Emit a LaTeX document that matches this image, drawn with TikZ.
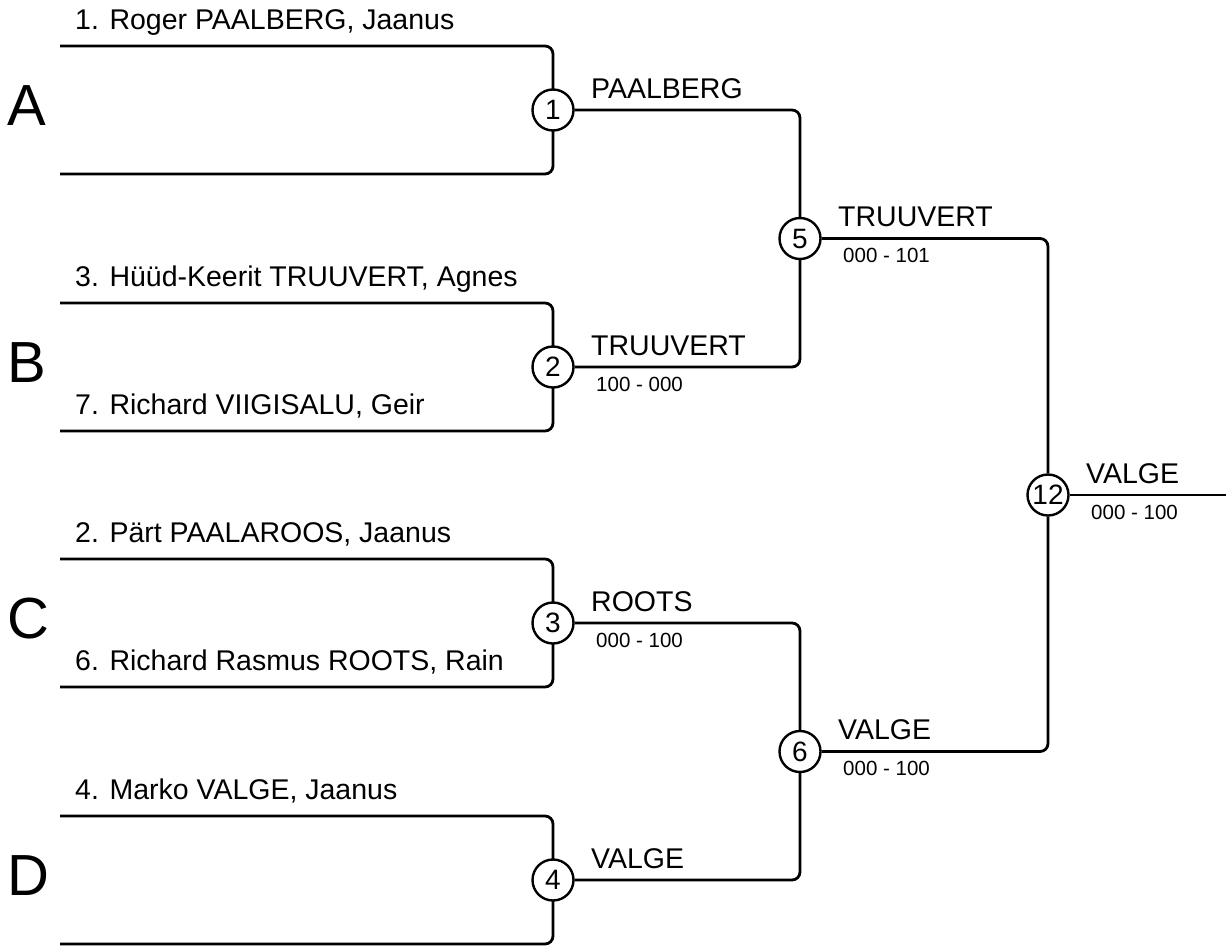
\documentclass[tikz,border=0pt]{standalone}
\usepackage{fontspec}
\setmainfont{Liberation Sans}
\begin{document}
\begin{tikzpicture}[x=1pt,y=-1pt,
  lnk/.style={line width=2.8pt,rounded corners=8pt},
  mnode/.style={circle,draw,line width=2.4pt,fill=white,minimum size=41pt,inner sep=0pt,font=\fontsize{28}{28}\selectfont},
  pname/.style={anchor=base west,inner sep=0pt,font=\fontsize{28.5}{30}\selectfont},
  sclabel/.style={anchor=base west,inner sep=0pt,font=\fontsize{20.5}{22}\selectfont},
  grplabel/.style={anchor=base west,inner sep=0pt,font=\fontsize{58}{60}\selectfont}]
\useasboundingbox (0,0) rectangle (1226,948);
% endpoints
\coordinate (a1) at (60,46);  \coordinate (a2) at (60,174);
\coordinate (b1) at (60,303); \coordinate (b2) at (60,431);
\coordinate (c1) at (60,559); \coordinate (c2) at (60,687);
\coordinate (d1) at (60,816); \coordinate (d2) at (60,944);
\coordinate (fin) at (1226,495);
% first-round lines
\draw[lnk] (a1) -| (553,110);
\draw[lnk] (a2) -| (553,110);
\draw[lnk] (b1) -| (553,367);
\draw[lnk] (b2) -| (553,367);
\draw[lnk] (c1) -| (553,623);
\draw[lnk] (c2) -| (553,623);
\draw[lnk] (d1) -| (553,880);
\draw[lnk] (d2) -| (553,880);
% match nodes
\node[mnode] (m1) at (553,110) {1};
\node[mnode] (m2) at (553,367) {2};
\node[mnode] (m3) at (553,623) {3};
\node[mnode] (m4) at (553,880) {4};
\node[mnode] (m5) at (800,238.5) {5};
\node[mnode] (m6) at (800,751.5) {6};
\node[mnode] (m12) at (1048,495) {12};
% later rounds
\draw[lnk] (m1.east) -| (m5.north);
\draw[lnk] (m2.east) -| (m5.south);
\draw[lnk] (m3.east) -| (m6.north);
\draw[lnk] (m4.east) -| (m6.south);
\draw[lnk] (m5.east) -| (m12.north);
\draw[lnk] (m6.east) -| (m12.south);
\draw[lnk] (m12.east) -- (fin);
% group letters
\node[grplabel] (gA) at (7,125) {A};
\node[grplabel] (gB) at (7,382) {B};
\node[grplabel] (gC) at (7,638) {C};
\node[grplabel] (gD) at (7,895) {D};
% player names
\node[pname] (p1) at (75,29) {1. Roger PAALBERG, Jaanus};
\node[pname] (p3) at (75,286) {3. Hüüd-Keerit TRUUVERT, Agnes};
\node[pname] (p7) at (75,414) {7. Richard VIIGISALU, Geir};
\node[pname] (p2) at (75,542) {2. Pärt PAALAROOS, Jaanus};
\node[pname] (p6) at (75,670) {6. Richard Rasmus ROOTS, Rain};
\node[pname] (p4) at (75,799) {4. Marko VALGE, Jaanus};
% winners
\node[pname] (w1) at (591,98) {PAALBERG};
\node[pname] (w2) at (591,355) {TRUUVERT};
\node[sclabel] (s2) at (596,391) {100 - 000};
\node[pname] (w3) at (591,611) {ROOTS};
\node[sclabel] (s3) at (596,647) {000 - 100};
\node[pname] (w4) at (591,868) {VALGE};
\node[pname] (w5) at (838,226.5) {TRUUVERT};
\node[sclabel] (s5) at (843,262.5) {000 - 101};
\node[pname] (w6) at (838,739.5) {VALGE};
\node[sclabel] (s6) at (843,775.5) {000 - 100};
\node[pname] (w12) at (1086,483) {VALGE};
\node[sclabel] (s12) at (1091,519) {000 - 100};
\end{tikzpicture}
\end{document}
